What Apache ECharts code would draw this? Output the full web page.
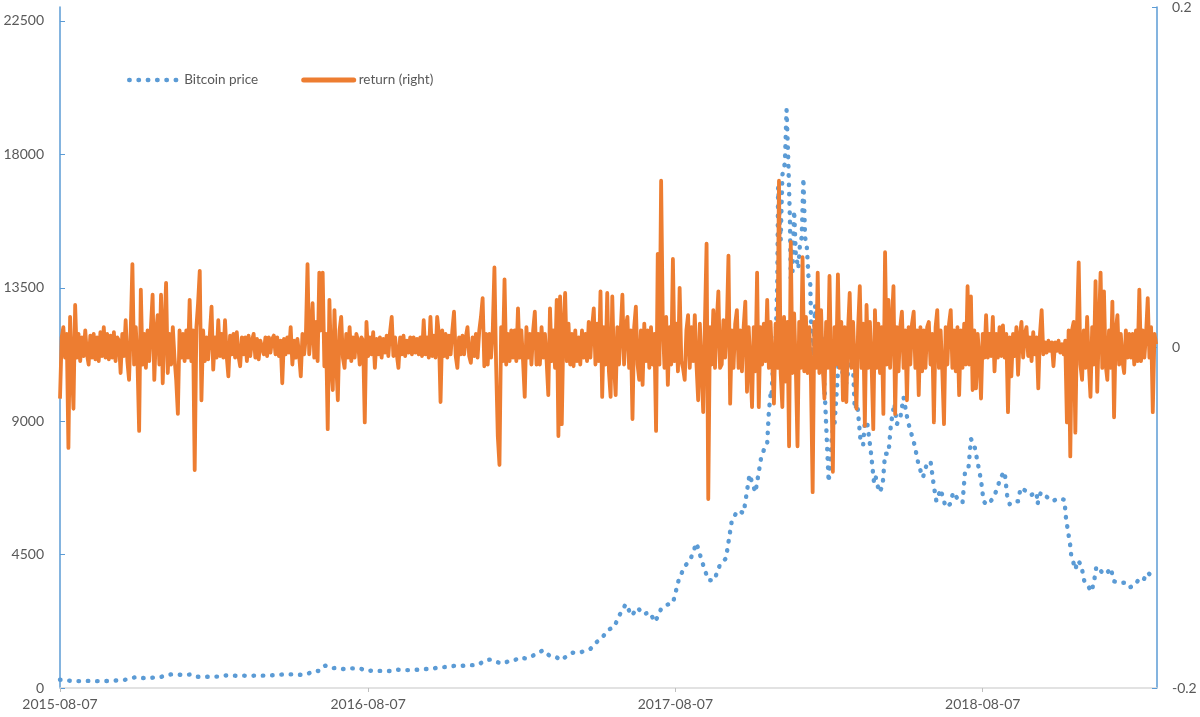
<!DOCTYPE html>
<html>
<head>
<meta charset="utf-8">
<script src="https://cdn.jsdelivr.net/npm/echarts@6/dist/echarts.min.js"></script>
<style>html,body{margin:0;padding:0;background:#fff}#c{width:1200px;height:717px}</style>
</head>
<body>
<div id="c"></div>
<script>
// ---------------- data ----------------
const startDate = '2015-08-07';
const xTickLabels = ['2015-08-07', '2016-08-07', '2017-08-07', '2018-08-07'];
const yLeftTicks = [0, 4500, 9000, 13500, 18000, 22500];
const yRightTicks = [-0.2, 0, 0.2];

// Bitcoin price, one value every 7 days from 2015-08-07 to 2017-11-17
const weeklyPrice = [
  279, 265, 235, 231, 239, 240, 232, 235, 237, 244, 262, 276, 326, 374, 337, 326, 358, 362, 434, 462,
  455, 434, 453, 374, 382, 379, 386, 384, 421, 432, 410, 419, 408, 417, 417, 419, 430, 449, 455, 461,
  455, 442, 473, 570, 577, 755, 666, 677, 640, 664, 662, 656, 575, 587, 576, 578, 575, 623, 607, 603,
  609, 617, 640, 632, 688, 703, 716, 749, 739, 769, 770, 784, 921, 961, 886, 821, 895, 918, 1032, 997,
  1063, 1179, 1275, 1098, 1072, 937, 1079, 1190, 1180, 1250, 1317, 1540, 1700, 1960, 2050, 2480, 2830, 2440, 2710, 2480,
  2560, 2230, 2670, 2810, 2860, 3660, 4100, 4350, 4890, 4230, 3640, 3630, 4170, 4370, 5650, 5990, 5900, 7200, 6600, 7800
];
// Bitcoin price, denser readings from late 2017 on
const latePriceDates = [
  '2017-11-21','2017-11-24','2017-11-26','2017-11-28','2017-11-29','2017-12-01','2017-12-04','2017-12-06','2017-12-07','2017-12-08',
  '2017-12-10','2017-12-12','2017-12-15','2017-12-17','2017-12-19','2017-12-21','2017-12-22','2017-12-24','2017-12-26','2017-12-28',
  '2017-12-31','2018-01-02','2018-01-04','2018-01-06','2018-01-08','2018-01-10','2018-01-12','2018-01-14','2018-01-16','2018-01-18',
  '2018-01-20','2018-01-22','2018-01-25','2018-01-28','2018-01-31','2018-02-02','2018-02-05','2018-02-07','2018-02-09','2018-02-12',
  '2018-02-15','2018-02-17','2018-02-20','2018-02-23','2018-02-26','2018-03-02','2018-03-05','2018-03-08','2018-03-11','2018-03-15',
  '2018-03-18','2018-03-20','2018-03-23','2018-03-27','2018-03-31','2018-04-02','2018-04-06','2018-04-10','2018-04-13','2018-04-17',
  '2018-04-20','2018-04-24','2018-04-27','2018-05-01','2018-05-05','2018-05-10','2018-05-13','2018-05-18','2018-05-23','2018-05-28',
  '2018-06-01','2018-06-06','2018-06-10','2018-06-13','2018-06-18','2018-06-24','2018-06-29','2018-07-03','2018-07-10','2018-07-14',
  '2018-07-17','2018-07-21','2018-07-24','2018-07-28','2018-08-01','2018-08-05','2018-08-08','2018-08-11','2018-08-14','2018-08-19',
  '2018-08-24','2018-08-28','2018-09-02','2018-09-05','2018-09-08','2018-09-12','2018-09-18','2018-09-21','2018-09-27','2018-10-03',
  '2018-10-10','2018-10-11','2018-10-15','2018-10-22','2018-10-29','2018-11-05','2018-11-12','2018-11-14','2018-11-19','2018-11-20',
  '2018-11-25','2018-11-28','2018-12-02','2018-12-06','2018-12-10','2018-12-14','2018-12-17','2018-12-20','2018-12-24','2018-12-28',
  '2019-01-01','2019-01-06','2019-01-10','2019-01-15','2019-01-20','2019-01-25','2019-01-29','2019-02-03','2019-02-08','2019-02-13',
  '2019-02-19','2019-02-24','2019-02-27'
];
const latePriceValues = [
  8100, 8250, 9330, 9900, 9800, 10900, 11600, 13700, 16900, 16300,
  15100, 17300, 17700, 19500, 17800, 15800, 13800, 14000, 16100, 14600,
  14150, 15000, 15200, 17200, 15200, 14900, 13900, 13800, 11200, 11500,
  12900, 10800, 11200, 11800, 10200, 8900, 6950, 7700, 8600, 8900,
  10200, 11100, 11200, 10000, 10300, 11000, 11500, 9400, 9600, 8300,
  8200, 9000, 8900, 8000, 6900, 7100, 6600, 6800, 7900, 7900,
  8900, 9600, 8900, 9100, 9800, 9000, 8700, 8200, 7500, 7100,
  7500, 7650, 6800, 6300, 6700, 6100, 6200, 6600, 6300, 6250,
  7300, 7400, 8400, 8200, 7600, 7000, 6300, 6200, 6200, 6400,
  6700, 7100, 7300, 6500, 6200, 6300, 6300, 6750, 6650, 6500,
  6600, 6200, 6600, 6450, 6300, 6400, 6350, 5700, 4800, 4500,
  4000, 4300, 4150, 3550, 3450, 3250, 3550, 4100, 4000, 3850,
  3850, 4050, 3600, 3550, 3550, 3550, 3400, 3450, 3650, 3600,
  3900, 3750, 3800
];

// Return (right axis), one reading every 2 days from 2015-08-07
const returnStepDays = 2;
const returns = [
  -0.030, 0.006, 0.012, -0.006, 0.008, -0.059, 0.018, -0.010, -0.036, 0.025, -0.006, 0.008, -0.008, 0.006, -0.005, 0.010, -0.004, -0.010, 0.007, -0.006, 0.008, -0.007, 0.006, -0.008, 0.009, -0.005, 0.012, -0.006, 0.008, -0.007,
  0.007, -0.006, 0.009, -0.008, 0.006, 0.004, -0.015, 0.008, -0.005, 0.016, -0.008, -0.019, 0.010, 0.049, -0.010, 0.012, -0.008, -0.049, 0.034, -0.010, 0.008, -0.012, 0.010, -0.008, 0.012, 0.031, -0.019, 0.008, 0.019, -0.010,
  0.031, -0.021, 0.010, 0.038, -0.015, 0.008, -0.010, 0.012, -0.006, -0.019, -0.039, 0.010, -0.006, 0.008, -0.008, 0.010, -0.006, 0.028, -0.008, 0.010, -0.072, 0.012, 0.026, 0.045, -0.031, 0.010, -0.008, 0.006, -0.007, 0.008,
  0.024, -0.013, 0.006, -0.006, 0.016, -0.005, 0.008, -0.006, 0.016, -0.005, -0.017, 0.007, -0.004, 0.008, -0.006, 0.009, -0.005, -0.011, 0.006, -0.004, 0.006, -0.008, 0.007, -0.005, 0.004, 0.008, -0.006, 0.005, -0.007, 0.004,
  0.005, -0.004, 0.006, -0.005, 0.006, -0.003, 0.005, 0.007, -0.004, 0.006, -0.005, 0.004, -0.021, 0.005, -0.004, 0.006, -0.003, 0.012, -0.010, 0.004, -0.006, 0.005, -0.004, -0.017, 0.008, -0.004, 0.006, 0.049, -0.004, 0.008,
  0.026, -0.006, 0.015, -0.008, 0.044, 0.010, 0.044, -0.011, 0.008, -0.048, 0.028, -0.010, -0.025, 0.022, -0.008, -0.031, 0.010, 0.018, -0.006, -0.012, 0.008, -0.006, 0.012, -0.008, 0.006, -0.006, 0.008, 0.004, -0.010, 0.006,
  0.004, -0.044, 0.015, -0.005, 0.006, -0.004, 0.009, -0.012, 0.005, -0.004, 0.006, -0.006, 0.005, -0.003, 0.007, -0.005, 0.009, 0.018, -0.005, 0.006, -0.004, -0.012, 0.006, -0.004, 0.007, -0.005, 0.004, -0.003, 0.006, -0.004,
  0.006, -0.003, 0.005, -0.004, 0.006, -0.005, 0.016, -0.004, 0.006, -0.006, 0.018, -0.005, 0.007, -0.006, 0.018, 0.008, -0.032, 0.010, -0.005, 0.008, -0.006, 0.007, -0.004, 0.010, 0.021, -0.005, -0.012, 0.006, -0.004, 0.007,
  -0.004, 0.006, 0.012, -0.005, -0.009, 0.006, -0.005, 0.008, -0.006, 0.010, 0.018, 0.029, -0.011, 0.008, -0.010, 0.008, -0.006, 0.010, 0.047, -0.010, -0.052, -0.069, 0.012, -0.008, 0.040, -0.010, 0.008, -0.008, 0.010, -0.006,
  0.010, -0.008, 0.023, -0.006, 0.010, -0.008, -0.029, 0.012, -0.006, 0.008, -0.010, 0.010, 0.021, -0.010, 0.008, -0.010, 0.012, -0.006, 0.008, -0.008, -0.028, 0.023, -0.008, 0.010, -0.012, 0.028, -0.052, 0.030, -0.045, 0.012,
  0.032, -0.008, 0.014, -0.010, 0.008, -0.011, 0.010, -0.008, 0.006, -0.010, 0.010, -0.006, 0.008, -0.008, 0.015, -0.006, 0.012, 0.023, -0.010, 0.014, -0.008, 0.033, -0.029, 0.012, -0.010, 0.032, -0.014, -0.029, 0.030, -0.010,
  -0.028, 0.012, -0.010, 0.010, 0.031, -0.010, 0.012, 0.018, -0.012, 0.010, -0.042, 0.012, 0.024, -0.010, -0.019, 0.010, -0.022, 0.014, -0.008, 0.010, -0.012, 0.012, -0.010, 0.008, -0.049, 0.055, -0.010, 0.098, 0.014, -0.012,
  0.018, -0.022, 0.012, -0.010, 0.052, -0.008, 0.014, -0.014, 0.035, -0.008, -0.012, -0.019, 0.010, 0.019, -0.012, 0.012, -0.008, 0.019, -0.010, -0.031, 0.014, -0.012, -0.038, 0.014, 0.061, -0.089, 0.012, -0.010, 0.022, -0.012,
  0.014, 0.033, -0.012, -0.010, 0.016, -0.006, 0.012, 0.054, -0.033, 0.010, -0.012, 0.014, 0.022, -0.012, 0.010, -0.014, 0.012, 0.027, -0.026, 0.012, -0.010, -0.035, 0.012, -0.014, 0.044, -0.035, 0.012, -0.010, 0.014, -0.008,
  0.028, -0.012, 0.015, -0.010, -0.033, 0.014, -0.012, 0.098, -0.015, -0.035, 0.018, -0.020, 0.015, -0.058, 0.062, -0.015, 0.020, -0.012, -0.058, 0.015, -0.012, 0.053, -0.014, 0.018, -0.015, 0.012, -0.020, -0.085, 0.015, -0.012,
  0.044, -0.015, 0.022, -0.012, -0.030, 0.015, -0.012, 0.042, -0.015, -0.073, 0.012, -0.010, 0.043, -0.012, 0.015, -0.031, 0.012, -0.032, 0.010, 0.032, -0.012, 0.015, -0.010, -0.036, 0.012, 0.036, -0.012, 0.014, -0.046, 0.025,
  -0.012, 0.015, -0.010, -0.048, 0.022, -0.012, 0.014, -0.015, 0.012, -0.039, 0.056, -0.010, 0.028, -0.012, 0.014, 0.036, -0.039, 0.012, -0.014, 0.012, 0.021, -0.012, 0.010, -0.031, 0.012, -0.010, 0.014, 0.021, -0.012, 0.010,
  -0.028, 0.012, -0.014, 0.010, -0.012, 0.012, 0.015, -0.010, 0.008, -0.044, 0.012, 0.022, -0.012, 0.010, -0.014, -0.045, 0.012, -0.010, 0.014, 0.022, -0.012, 0.010, -0.014, 0.012, -0.028, 0.010, -0.012, 0.014, -0.010, 0.036,
  -0.010, 0.030, -0.025, 0.010, -0.024, 0.008, -0.006, -0.030, 0.008, -0.006, 0.019, -0.006, 0.008, -0.005, 0.018, -0.014, 0.008, -0.006, 0.012, -0.005, 0.013, -0.006, 0.008, -0.038, 0.006, -0.017, 0.008, -0.005, 0.012, -0.016,
  0.006, 0.015, -0.006, 0.008, 0.012, -0.005, 0.006, -0.008, 0.009, -0.004, 0.006, -0.024, 0.008, 0.022, -0.004, 0.003, -0.003, 0.004, -0.002, 0.003, -0.011, 0.003, -0.002, 0.004, -0.003, 0.002, -0.004, 0.004, -0.044, 0.010,
  -0.064, 0.010, 0.015, -0.050, 0.012, 0.050, -0.010, -0.019, 0.010, -0.012, 0.018, -0.010, -0.029, 0.012, -0.010, 0.039, -0.026, 0.012, 0.044, -0.012, 0.033, -0.010, -0.019, 0.010, -0.012, 0.027, -0.041, 0.010, 0.019, -0.010,
  0.008, -0.008, -0.015, 0.010, -0.006, 0.008, -0.006, 0.008, -0.010, 0.010, -0.008, 0.034, -0.008, 0.010, -0.006, 0.008, 0.029, -0.006, 0.012, -0.038, 0.008, 0.002
];

// ---------------- build ----------------
const DAY = 86400000;
const t0 = Date.parse(startDate + 'T00:00:00Z');
const dayOf = s => Math.round((Date.parse(s + 'T00:00:00Z') - t0) / DAY);
const xTickDays = xTickLabels.map(dayOf);

const priceData = weeklyPrice.map((v, i) => [i * 7, v])
  .concat(latePriceDates.map((d, i) => [dayOf(d), latePriceValues[i]]));
const returnData = returns.map((r, i) => [i * returnStepDays, r]);

const FONT = 'Lato, "Liberation Sans", sans-serif';
const TXT = '#595959';
const BLUE = '#5B9BD5';
const ORANGE = '#ED7D31';
const priceLine = { color: BLUE, width: 4.4, type: [0.5, 8.8], cap: 'round', join: 'round' };
const returnLine = { color: ORANGE, width: 3.8, join: 'round' };

const chart = echarts.init(document.getElementById('c'), null, { renderer: 'canvas' });
chart.setOption({
  animation: false,
  backgroundColor: '#ffffff',
  textStyle: { fontFamily: FONT },
  grid: { left: 60, right: 43, top: 6, bottom: 29, containLabel: false },
  legend: {
    left: 127, top: 73, padding: 0,
    itemWidth: 50, itemHeight: 14, itemGap: 43,
    itemStyle: { opacity: 0 },
    textStyle: { color: TXT, fontSize: 13.5, fontFamily: FONT },
    data: [
      { name: 'Bitcoin price', lineStyle: { color: BLUE, width: 4.4, type: [0.5, 8.8], cap: 'round' } },
      { name: 'return (right)', lineStyle: { color: ORANGE, width: 5, cap: 'round' } }
    ]
  },
  xAxis: {
    type: 'value', min: 0, max: 1303,
    axisLine: { show: true, onZero: false, lineStyle: { color: '#d9d9d9', width: 1.5 } },
    axisTick: { show: true, customValues: xTickDays, length: 4, lineStyle: { color: '#bfbfbf' } },
    axisLabel: {
      customValues: xTickDays,
      formatter: v => { const k = xTickDays.indexOf(v); return k >= 0 ? xTickLabels[k] : ''; },
      color: TXT, fontSize: 14, fontFamily: FONT, margin: 9
    },
    splitLine: { show: false }
  },
  yAxis: [
    {
      type: 'value', position: 'left', min: 0, max: 22970,
      axisLine: { show: true, lineStyle: { color: BLUE, width: 1.5 } },
      axisTick: { show: true, inside: true, length: 5, customValues: yLeftTicks, lineStyle: { color: BLUE } },
      axisLabel: { customValues: yLeftTicks, formatter: v => String(v), color: TXT, fontSize: 14, fontFamily: FONT, margin: 16 },
      splitLine: { show: false }
    },
    {
      type: 'value', position: 'right', min: -0.2, max: 0.2, interval: 0.2,
      axisLine: { show: true, lineStyle: { color: BLUE, width: 1.5 } },
      axisTick: { show: true, inside: true, length: 5, customValues: yRightTicks, lineStyle: { color: BLUE } },
      axisLabel: { customValues: yRightTicks, formatter: v => String(v), color: TXT, fontSize: 14, fontFamily: FONT, margin: 15 },
      splitLine: { show: false }
    }
  ],
  series: [
    {
      name: 'Bitcoin price', type: 'line', yAxisIndex: 0, data: priceData,
      symbol: 'none', smooth: false, z: 2,
      itemStyle: { color: BLUE },
      lineStyle: priceLine
    },
    {
      name: 'return (right)', type: 'line', yAxisIndex: 1, data: returnData,
      symbol: 'none', smooth: false, z: 3,
      itemStyle: { color: ORANGE },
      lineStyle: returnLine
    }
  ]
});
</script>
</body>
</html>
